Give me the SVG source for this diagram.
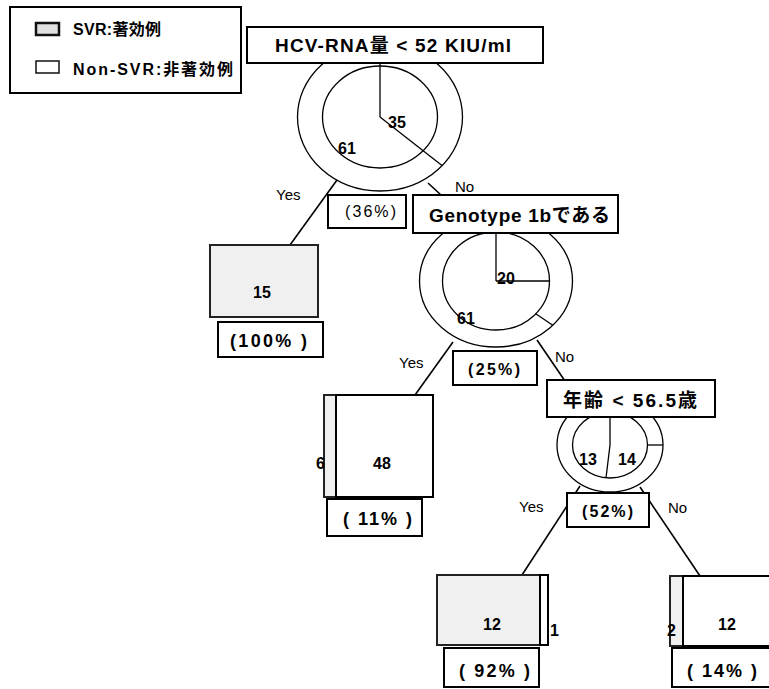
<svg xmlns="http://www.w3.org/2000/svg" width="769" height="689" viewBox="0 0 769 689">
<style>
.b{fill:#fff;stroke:#000;stroke-width:2}
.svr{fill:#f0f0f0;stroke:#222;stroke-width:2}
.ring{fill:#fff;stroke:#000;stroke-width:1.3}
.ln{stroke:#000;stroke-width:1.3;fill:none}
.cn{stroke:#000;stroke-width:1.6;fill:none}
text{font-family:"Liberation Sans","Noto Sans CJK JP",Arial,sans-serif;fill:#000}
.t{font-weight:bold;font-size:19px}
.n{font-weight:bold;font-size:16px}
.p{font-weight:bold;font-size:18px}
.q{font-size:16px}
.l{font-size:15px}
</style>
<g id="legend">
<rect x="10" y="7" width="231" height="86" class="b"/>
<rect x="36" y="23" width="23" height="12" fill="#e0e0e0" stroke="#111" stroke-width="2.5"/>
<text x="73" y="35" class="n" font-size="15" textLength="88">SVR:著効例</text>
<text x="73" y="75" class="n" font-size="15" textLength="160">Non-SVR:非著効例</text>
<rect x="36" y="61" width="23" height="12" fill="#fff" stroke="#111" stroke-width="1.5"/>
</g>
<g id="connectors">
<line x1="337" y1="180" x2="290" y2="245" class="cn"/>
<line x1="428" y1="183" x2="441" y2="195" class="cn"/>
<line x1="453" y1="342" x2="415" y2="395" class="cn"/>
<line x1="537" y1="340" x2="565" y2="381" class="cn"/>
<line x1="580" y1="486" x2="522" y2="575" class="cn"/>
<line x1="640" y1="487" x2="700" y2="576" class="cn"/>
<text x="276" y="200" class="l">Yes</text>
<text x="455" y="192" class="l" font-size="16">No</text>
<text x="399" y="368" class="l">Yes</text>
<text x="555" y="362" class="l" font-size="16">No</text>
<text x="519" y="512" class="l">Yes</text>
<text x="668" y="513" class="l" font-size="16">No</text>
</g>
<g id="node1">
<ellipse cx="380" cy="117" rx="82.5" ry="74" class="ring"/>
<ellipse cx="380" cy="117" rx="57.5" ry="51" class="ring"/>
<line x1="380" y1="117" x2="380" y2="63" class="ln"/>
<line x1="380" y1="117" x2="442" y2="165.5" class="ln"/>
<text x="388" y="128" class="n">35</text>
<text x="338" y="154" class="n">61</text>
<rect x="247" y="27" width="296" height="36" class="b"/>
<text x="275" y="52" class="t" textLength="236">HCV-RNA量 &lt; 52 KIU/ml</text>
<rect x="328" y="195" width="78" height="33" class="b"/>
<text x="345" y="217" class="q" textLength="51">(36%)</text>
</g>
<g id="node2">
<rect x="210" y="245" width="108" height="72" class="svr" stroke="#444"/>
<text x="253" y="298" class="n">15</text>
<rect x="218" y="322" width="105" height="35" class="b"/>
<text x="230" y="347" class="p" textLength="77">(100% )</text>
</g>
<g id="node3">
<ellipse cx="496" cy="281" rx="76.5" ry="66" class="ring"/>
<ellipse cx="496" cy="281" rx="53.5" ry="49" class="ring"/>
<line x1="496" y1="281" x2="496" y2="233" class="ln"/>
<line x1="496" y1="281" x2="549.5" y2="281" class="ln"/>
<line x1="535.7" y1="313.8" x2="552.8" y2="325.2" class="ln"/>
<text x="497" y="284" class="n">20</text>
<text x="457" y="324" class="n">61</text>
<rect x="413" y="195" width="205" height="38" class="b"/>
<text x="429" y="222" class="t" textLength="181">Genotype 1bである</text>
<rect x="453" y="351" width="84" height="34" class="b"/>
<text x="468" y="375" class="q" font-weight="bold" textLength="52">(25%)</text>
</g>
<g id="node4">
<rect x="324" y="395" width="12" height="102" class="svr" stroke="#111"/>
<rect x="336" y="395" width="97" height="102" class="b"/>
<text x="316" y="469" class="n">6</text>
<text x="373" y="469" class="n">48</text>
<rect x="327" y="499" width="95" height="37" class="b"/>
<text x="343" y="525" class="p" textLength="69">( 11% )</text>
</g>
<g id="node5">
<ellipse cx="610" cy="445" rx="53" ry="47" class="ring"/>
<ellipse cx="610" cy="445" rx="37.5" ry="33" class="ring"/>
<polyline points="610,417 610,445 606,478" class="ln"/>
<line x1="647.5" y1="445" x2="663" y2="445" class="ln"/>
<text x="579" y="465" class="n">13</text>
<text x="618" y="465" class="n">14</text>
<rect x="547" y="380" width="168" height="37" class="b"/>
<text x="563" y="407" class="t" font-size="17" textLength="134">年齢 &lt; 56.5歳</text>
<rect x="567" y="493" width="82" height="34" class="b"/>
<text x="582" y="517" class="q" font-weight="bold" textLength="51">(52%)</text>
</g>
<g id="node6">
<rect x="437" y="575" width="103" height="70" class="svr"/>
<rect x="540" y="575" width="8" height="70" class="b" stroke-width="1.5"/>
<text x="483" y="630" class="n">12</text>
<text x="550" y="636" class="n">1</text>
<rect x="444" y="648" width="95" height="39" class="b"/>
<text x="459" y="677" class="p" textLength="71">( 92% )</text>
</g>
<g id="node7">
<rect x="670" y="576" width="13" height="70" class="svr"/>
<rect x="683" y="576" width="95" height="70" class="b"/>
<text x="667" y="636" class="n">2</text>
<text x="718" y="630" class="n">12</text>
<rect x="672" y="648" width="100" height="39" class="b"/>
<text x="687" y="677" class="p" textLength="70">( 14% )</text>
</g>
</svg>
